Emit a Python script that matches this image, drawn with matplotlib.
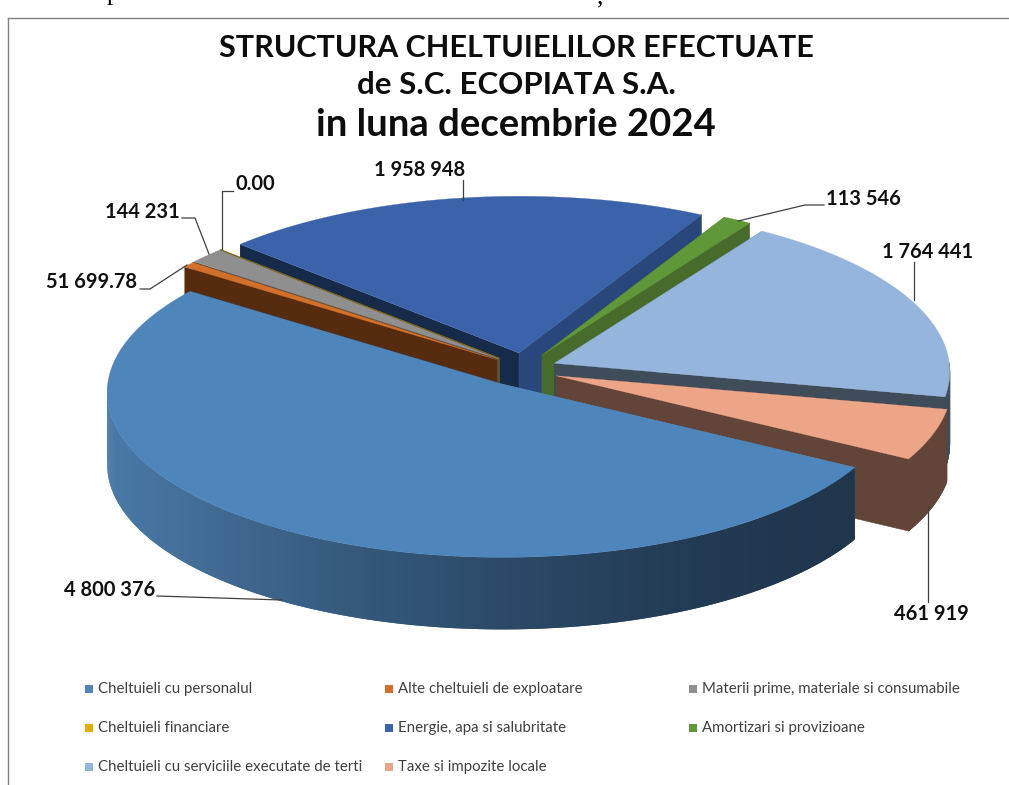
"""Exploded 3D pie of the monthly expense structure."""

import matplotlib

matplotlib.use("Agg")

import matplotlib.pyplot as plt
import numpy as np
from matplotlib.colors import to_rgb
from matplotlib.patches import Polygon, Rectangle

WIDTH, HEIGHT = 1009, 785

CATEGORIES = [
    "Cheltuieli cu personalul",
    "Alte cheltuieli de exploatare",
    "Materii prime, materiale si consumabile",
    "Cheltuieli financiare",
    "Energie, apa si salubritate",
    "Amortizari si provizioane",
    "Cheltuieli cu serviciile executate de terti",
    "Taxe si impozite locale",
]
VALUES = [4800376, 51699.78, 144231, 0.00, 1958948, 113546, 1764441, 461919]
VALUE_LABELS = ["4 800 376", "51 699.78", "144 231", "0.00", "1 958 948", "113 546", "1 764 441", "461 919"]
TITLE_LINES = ["STRUCTURA CHELTUIELILOR EFECTUATE", "de S.C. ECOPIATA S.A.", "in luna decembrie 2024"]

TOP_COLORS = ["#4e86bb", "#d0702a", "#8f8f8f", "#e5ac00", "#3b63a9", "#609839", "#95b5dc", "#eca587"]
CUT_START_COLORS = ["#4e86bb", "#572b0e", "#5a5a5a", "#6b5000", "#162a4a", "#2d4a1c", "#3f4c5a", "#624438"]
CUT_END_COLORS = ["#1f364d", "#572b0e", "#5a5a5a", "#6b5000", "#2a477b", "#466b2b", "#3f4c5a", "#624438"]
WALL_COLORS = ["#4a7aa8", "#572b0e", "#5a5a5a", "#6b5000", "#2a477b", "#466b2b", "#3f4c5a", "#624438"]

# pie geometry, in image pixels
START_ANGLE = 29.5
CENTER = (524.4, 369.8)
EXPLODE = (34.0, 17.0)
RADIUS = (395.0, 165.0)
PERSPECTIVE = 0.05
DEPTH = 72.0
APEX_NUDGE = [-3.5, 0, 0, 0, 0, 0, -1.5, 0]

# draw order, back to front
DRAW_ORDER = [4, 3, 2, 1, 5, 6, 7, 0]

# label text anchor and leader line per category (pixels)
LABEL_POS = [(155, 596, "right"), (137, 288, "right"), (180, 218, "right"), (235, 190, "left"),
             (420, 176, "center"), (826, 205, "left"), (928, 258, "center"), (931, 620, "center")]
LEADERS = [
    [(157, 596), (282, 600)],
    [(140, 289), (150, 289), (187, 265)],
    [(182, 218), (195, 218), (209, 254)],
    [(233, 191), (222, 191), (222, 249)],
    [(463, 180), (463, 200)],
    [(824, 205), (805, 205), (738, 221)],
    [(914, 262), (914, 300)],
    [(928, 602), (928, 506)],
]

LEGEND_X = [85, 385, 689]
LEGEND_Y = [689, 728, 767]


def arc_point(apex, angle):
    """Point of the rim for one angle, rear of the pie is a bit smaller."""
    t = np.radians(angle)
    scale = 1 + PERSPECTIVE * np.sin(t)
    x = apex[0] + RADIUS[0] * scale * np.cos(t)
    y = apex[1] + RADIUS[1] * scale * np.sin(t)
    return x, y


def extrude(points):
    """Quad from a top edge down to the bottom of the pie."""
    return list(points) + [(x, y + DEPTH) for x, y in reversed(points)]


def draw_slice(ax, index, start, end):
    mid = np.radians((start + end) / 2)
    apex = (CENTER[0] + EXPLODE[0] * np.cos(mid) + APEX_NUDGE[index], CENTER[1] + EXPLODE[1] * np.sin(mid))
    angles = np.linspace(start, end, max(int(end - start) * 2, 2))
    rim = [arc_point(apex, a) for a in angles]

    ax.add_patch(Polygon(extrude([apex, rim[0]]), color=CUT_START_COLORS[index], lw=0))
    ax.add_patch(Polygon(extrude([apex, rim[-1]]), color=CUT_END_COLORS[index], lw=0.4))

    # only the front of the rim has a wall; each quad overlaps the next to hide seams
    for i in range(len(rim) - 1):
        if np.sin(np.radians(angles[i + 1])) < 0:
            continue
        if index == 0:
            # main slice wall goes darker from left to right
            f = np.clip((rim[i][0] - 107) / 740, 0, 1)
            mix = (1 - f) ** 1.6
            color = tuple(np.array(to_rgb("#4a7aa8")) * mix + np.array(to_rgb("#1f364d")) * (1 - mix))
            lw = 0
        else:
            color = WALL_COLORS[index]
            lw = 0.4
        ax.add_patch(Polygon(extrude(rim[i:i + 3]), color=color, lw=lw))

    ax.add_patch(Polygon([apex] + rim, color=TOP_COLORS[index], lw=0.2))


def main():
    fig = plt.figure(figsize=(WIDTH / 100, HEIGHT / 100), dpi=100)
    ax = fig.add_axes([0, 0, 1, 1])
    ax.set_xlim(0, WIDTH)
    ax.set_ylim(HEIGHT, 0)
    ax.axis("off")

    # page bits around the pasted chart
    ax.plot([8, WIDTH], [18, 18], color="#808080", lw=1)
    ax.plot([8, 8], [18, HEIGHT], color="#808080", lw=1)
    ax.text(113, 0, "p", ha="center", va="baseline", fontsize=18, family="Liberation Serif", color="black")
    ax.text(600, 3, ",", ha="center", va="baseline", fontsize=18, family="Liberation Serif", color="black")

    title_y = [48, 85, 125]
    title_size = [22, 22.5, 27.5]
    for line, y, size in zip(TITLE_LINES, title_y, title_size):
        ax.text(516, y, line, ha="center", va="center", fontsize=size, fontweight="bold", family="Lato", color="#0d0d0d")

    total = sum(VALUES)
    edges = START_ANGLE + np.concatenate([[0], np.cumsum(VALUES)]) / total * 360
    for index in DRAW_ORDER:
        draw_slice(ax, index, edges[index], edges[index + 1])

    for (x, y, ha), label, leader in zip(LABEL_POS, VALUE_LABELS, LEADERS):
        ax.text(x, y, label, ha=ha, va="baseline", fontsize=14.5, fontweight="bold", family="Lato", color="#111111")
        ax.plot(*zip(*leader), color="#404040", lw=0.9)

    for i, category in enumerate(CATEGORIES):
        # legend is filled row by row
        row, col = divmod(i, 3)
        x, y = LEGEND_X[col], LEGEND_Y[row]
        ax.add_patch(Rectangle((x, y - 4), 8, 8, color=TOP_COLORS[i], lw=0))
        ax.text(x + 13, y, category, ha="left", va="center", fontsize=10.8, family="Lato", color="#404040")

    fig.savefig("out.png", dpi=100)
    plt.close(fig)


if __name__ == "__main__":
    main()
